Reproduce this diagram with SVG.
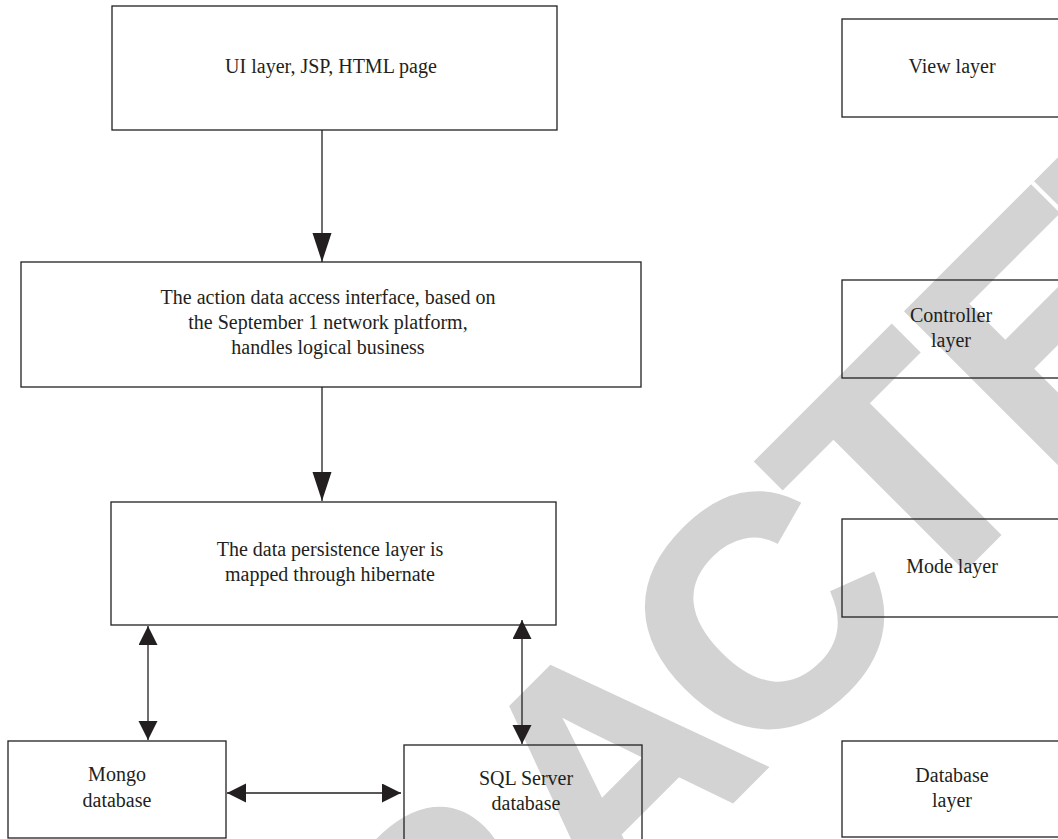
<svg xmlns="http://www.w3.org/2000/svg" width="1058" height="839" viewBox="0 0 1058 839">
  <defs>
    <style>
      .box { fill: none; stroke: #231f20; stroke-width: 1.3; }
      .lbl { font-family: "Liberation Serif", "Times New Roman", serif; font-size: 20px; fill: #231f20; text-anchor: middle; }
      .con { stroke: #231f20; stroke-width: 1.3; fill: none; }
      .wm { font-family: "Liberation Sans", Arial, sans-serif; font-weight: bold; font-size: 323px; fill: #d3d3d3; stroke: #d3d3d3; stroke-width: 5; stroke-linejoin: miter; }
    </style>
    <marker id="big" markerUnits="userSpaceOnUse" markerWidth="30" markerHeight="20" refX="29" refY="9.5" orient="auto">
      <path d="M0,0 L29,9.5 L0,19 Z" fill="#231f20"/>
    </marker>
    <marker id="sm" markerUnits="userSpaceOnUse" markerWidth="20" markerHeight="20" refX="19" refY="9.5" orient="auto-start-reverse">
      <path d="M0,0 L19,9.5 L0,19 Z" fill="#231f20"/>
    </marker>
  </defs>
  <rect x="0" y="0" width="1058" height="839" fill="#ffffff"/>
  <g id="watermark" transform="rotate(-45)">
    <text class="wm" x="-1105 -872 -657 -460 -226.6 -13.7 205.5 400 584" y="1084">RETRACTED</text>
  </g>
  <g id="connectors">
    <line class="con" x1="322" y1="130" x2="322" y2="262" marker-end="url(#big)"/>
    <line class="con" x1="322" y1="387" x2="322" y2="501" marker-end="url(#big)"/>
    <line class="con" x1="148" y1="626" x2="148" y2="740" marker-start="url(#sm)" marker-end="url(#sm)"/>
    <line class="con" x1="227" y1="793" x2="401" y2="793" marker-start="url(#sm)" marker-end="url(#sm)"/>
    <line class="con" x1="522" y1="620" x2="522" y2="744" marker-start="url(#sm)" marker-end="url(#sm)"/>
  </g>
  <g id="ui">
    <rect class="box" x="112" y="6" width="445" height="124"/>
    <text class="lbl" x="331" y="73">UI layer, JSP, HTML page</text>
  </g>
  <g id="action">
    <rect class="box" x="21" y="262" width="620" height="125"/>
    <text class="lbl" x="328" y="304">The action data access interface, based on</text>
    <text class="lbl" x="328" y="329">the September 1 network platform,</text>
    <text class="lbl" x="328" y="354">handles logical business</text>
  </g>
  <g id="persistence">
    <rect class="box" x="111" y="502" width="445" height="123"/>
    <text class="lbl" x="330" y="556">The data persistence layer is</text>
    <text class="lbl" x="330" y="581">mapped through hibernate</text>
  </g>
  <g id="mongo">
    <rect class="box" x="8" y="741" width="218" height="97"/>
    <text class="lbl" x="117" y="781">Mongo</text>
    <text class="lbl" x="117" y="807">database</text>
  </g>
  <g id="sqlserver">
    <rect class="box" x="404" y="745" width="238" height="100"/>
    <text class="lbl" x="526" y="785">SQL Server</text>
    <text class="lbl" x="526" y="810">database</text>
  </g>
  <g id="view">
    <rect class="box" x="842" y="19" width="220" height="98"/>
    <text class="lbl" x="952" y="73">View layer</text>
  </g>
  <g id="controller">
    <rect class="box" x="842" y="280" width="220" height="98"/>
    <text class="lbl" x="951" y="322">Controller</text>
    <text class="lbl" x="951" y="347">layer</text>
  </g>
  <g id="mode">
    <rect class="box" x="842" y="519" width="220" height="98"/>
    <text class="lbl" x="952" y="573">Mode layer</text>
  </g>
  <g id="database">
    <rect class="box" x="842" y="741" width="220" height="96"/>
    <text class="lbl" x="952" y="782">Database</text>
    <text class="lbl" x="952" y="807">layer</text>
  </g>
</svg>
